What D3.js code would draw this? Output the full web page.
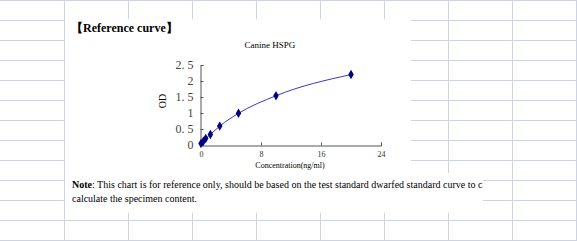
<!DOCTYPE html>
<html lang="en">
<head>
<meta charset="UTF-8">
<title>Canine HSPG reference curve</title>
<style>
  body { margin: 0; background: #fff; }
  svg text { font-family: "Liberation Serif", "Times New Roman", serif; }
</style>
</head>
<body>
<div id="viz-wrapper"></div>
<script src="https://cdn.jsdelivr.net/npm/d3@7"></script>
<script type="text/javascript">
// standard concentrations (ng/ml) and measured OD
var conc = [0, 0.312, 0.625, 1.25, 2.5, 5, 10, 20];
var od = [0.05, 0.12, 0.2, 0.33, 0.59, 0.99, 1.54, 2.2];

var xTicks = [0, 8, 16, 24];
var yTicks = [0, 0.5, 1, 1.5, 2, 2.5];
var yTickLabels = ["0", "0. 5", "1", "1. 5", "2", "2. 5"];

var width = 577, height = 241;

var svg = d3.select("#viz-wrapper")
  .append("svg")
  .attr("width", width)
  .attr("height", height);

// spreadsheet grid in the background
var gridColor = "#cdd3e3";
var cols = d3.range(1, 10).map(function(k) { return k * 64; });
var rows = d3.range(0, 13).map(function(k) { return k * 20; });

svg.selectAll("line.vgrid").data(cols).enter().append("line")
  .attr("x1", function(d) { return d + 0.5; })
  .attr("x2", function(d) { return d + 0.5; })
  .attr("y1", 0).attr("y2", height)
  .style("stroke", gridColor);

svg.selectAll("line.hgrid").data(rows).enter().append("line")
  .attr("x1", 0).attr("x2", width)
  .attr("y1", function(d) { return d + 0.5; })
  .attr("y2", function(d) { return d + 0.5; })
  .style("stroke", gridColor);

// white picture areas pasted over the cells
svg.append("rect").attr("x", 65).attr("y", 19).attr("width", 346).attr("height", 156).style("fill", "#fff");
svg.append("rect").attr("x", 65).attr("y", 173).attr("width", 418).attr("height", 40).style("fill", "#fff");

// heading
svg.append("text")
  .attr("x", 71).attr("y", 32)
  .style("font-size", "12px").style("font-weight", "bold")
  .text("【Reference curve】");

// chart
var x = d3.scaleLinear().domain([0, 24]).range([201, 381]);
var y = d3.scaleLinear().domain([0, 2.5]).range([145, 65]);

svg.append("text")
  .attr("x", 270).attr("y", 48)
  .attr("text-anchor", "middle")
  .style("font-size", "9px")
  .text("Canine HSPG");

var xAxis = svg.append("g")
  .attr("transform", "translate(0,145.5)")
  .call(d3.axisBottom(x).tickValues(xTicks).tickSize(-3).tickPadding(6));

var yAxis = svg.append("g")
  .attr("transform", "translate(200.5,0)")
  .call(d3.axisLeft(y).tickValues(yTicks).tickSize(-3).tickPadding(7)
    .tickFormat(function(d, i) { return yTickLabels[i]; }));

xAxis.selectAll("path, line").style("stroke", "#555");
yAxis.selectAll("path, line").style("stroke", "#555");
xAxis.selectAll("text").style("font-size", "8px").style("font-family", "Liberation Serif").style("fill", "#333");
yAxis.selectAll("text").style("font-size", "12px").style("font-family", "Liberation Serif").style("fill", "#444");

svg.append("text")
  .attr("x", 290).attr("y", 168)
  .attr("text-anchor", "middle")
  .style("font-size", "8px")
  .text("Concentration(ng/ml)");

svg.append("text")
  .attr("transform", "translate(166,101) rotate(-90)")
  .attr("text-anchor", "middle")
  .style("font-size", "10px")
  .text("OD");

var pts = conc.map(function(c, i) { return [c, od[i]]; });

var line = d3.line()
  .x(function(d) { return x(d[0]); })
  .y(function(d) { return y(d[1]); })
  .curve(d3.curveMonotoneX);

svg.append("path")
  .datum(pts)
  .attr("d", line)
  .style("fill", "none")
  .style("stroke", "#3a3ab8")
  .style("stroke-width", 1);

svg.selectAll("path.dot").data(pts).enter().append("path")
  .attr("d", d3.symbol().type(d3.symbolDiamond).size(26))
  .attr("transform", function(d) { return "translate(" + x(d[0]) + "," + y(d[1]) + ")"; })
  .style("fill", "#000080");

// note under the chart, cut off at the picture edge
svg.append("clipPath").attr("id", "noteClip")
  .append("rect").attr("x", 65).attr("y", 173).attr("width", 418).attr("height", 40);

var note = svg.append("g").attr("clip-path", "url(#noteClip)");

var t1 = note.append("text")
  .attr("x", 72).attr("y", 188)
  .style("font-size", "10px");
t1.append("tspan").style("font-weight", "bold").text("Note");
t1.append("tspan").text(": This chart is for reference only, should be based on the test standard dwarfed standard curve to calculate");

note.append("text")
  .attr("x", 72).attr("y", 202)
  .style("font-size", "10px")
  .text("calculate the specimen content.");
</script>
</body>
</html>
